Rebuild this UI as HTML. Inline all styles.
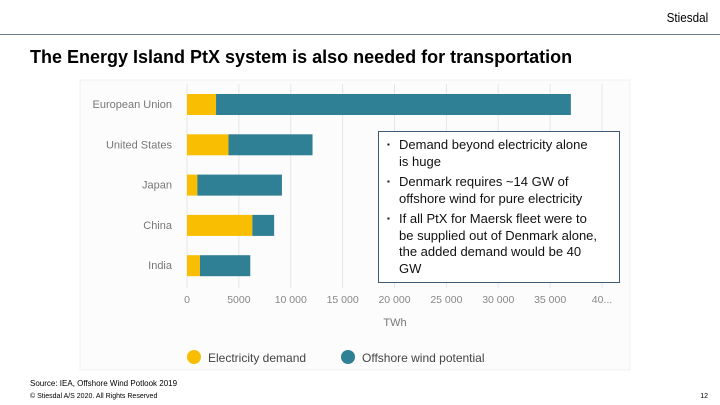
<!DOCTYPE html>
<html><head><meta charset="utf-8"><style>
body{margin:0;width:720px;height:405px;background:#fff;font-family:"Liberation Sans",sans-serif;position:relative;overflow:hidden}
.abs{position:absolute}
.bl{display:flex;white-space:nowrap}
.bl span:first-child{flex:0 0 12px;font-size:8px}
</style></head><body>
<div class="abs" style="right:12px;top:10px;font-size:13px;color:#000;transform:scaleX(0.9);transform-origin:right">Stiesdal</div>
<div class="abs" style="left:0;top:34px;width:720px;height:1px;background:#6f7b88"></div>
<div class="abs" style="left:30px;top:47px;font-size:18px;font-weight:bold;color:#000;white-space:nowrap">The Energy Island PtX system is also needed for transportation</div>
<svg class="abs" style="left:0;top:0" width="720" height="405">
<rect x="80" y="80" width="550" height="290" fill="#fcfcfc" stroke="#f0f0f0"/>
<g id="grid"></g><g id="bars"></g><g id="labels"></g>
<text x="395" y="326" text-anchor="middle" font-size="11" fill="#777">TWh</text>
<circle cx="194" cy="357" r="7" fill="#f9be02"/>
<text x="208" y="362" font-size="12" fill="#444">Electricity demand</text>
<circle cx="348" cy="357" r="7" fill="#2f7f95"/>
<text x="362" y="362" font-size="12" fill="#444">Offshore wind potential</text>
</svg>
<div class="abs" style="left:378px;top:131px;width:242px;height:152px;border:1px solid #3d5a78;background:#fff;box-sizing:border-box;padding:5px 4px 0 8px;font-size:13px;line-height:16.5px;color:#111">
<div class="bl"><span>▪</span><span>Demand beyond electricity alone<br>is huge</span></div>
<div class="bl" style="margin-top:4px"><span>▪</span><span>Denmark requires ~14 GW of<br>offshore wind for pure electricity</span></div>
<div class="bl" style="margin-top:4px"><span>▪</span><span>If all PtX for Maersk fleet were to<br>be supplied out of Denmark alone,<br>the added demand would be 40<br>GW</span></div>
</div>
<div class="abs" style="left:30px;top:379px;font-size:8px;color:#000">Source: IEA, Offshore Wind Potlook 2019</div>
<div class="abs" style="left:30px;top:393px;font-size:7px;color:#000">© Stiesdal A/S 2020. All Rights Reserved</div>
<div class="abs" style="right:12px;top:393px;font-size:7px;color:#000">12</div>
<script>
const categories=["European Union","United States","Japan","China","India"];
const demand=[2800,4000,1000,6300,1250];
const offshore=[34200,8100,8150,2100,4850];
const ticks=[0,5000,10000,15000,20000,25000,30000,35000,40000];
const tickLabels=["0","5000","10 000","15 000","20 000","25 000","30 000","35 000","40..."];
const NS="http://www.w3.org/2000/svg";
const x=v=>187+v*(415/40000);
const y=i=>94+i*40.3;
function mk(t,a,p){const e=document.createElementNS(NS,t);for(const k in a)e.setAttribute(k,a[k]);p.appendChild(e);return e;}
const g=document.getElementById('grid'),b=document.getElementById('bars'),l=document.getElementById('labels');
ticks.forEach((t,i)=>{
 const ln=mk('line',{x1:x(t),x2:x(t),y1:84,y2:288,stroke:'#e6e6e6','stroke-width':1},g);
 
 
 const tx=mk('text',{x:x(t),y:303,'text-anchor':'middle','font-size':10.5,fill:'#888'},l);
 tx.textContent=tickLabels[i];
 
 
});
categories.forEach((c,i)=>{
 const r1=mk('rect',{x:x(0),y:y(i),width:x(demand[i])-x(0),height:21,fill:'#f9be02'},b);
 
 
 const r2=mk('rect',{x:x(demand[i]),y:y(i),width:x(demand[i]+offshore[i])-x(demand[i]),height:21,fill:'#2f7f95'},b);
 
 
 const tx=mk('text',{x:172,y:y(i)+14,'text-anchor':'end','font-size':11,fill:'#777'},l);
 tx.textContent=c;
 
 
});
</script>
</body></html>
